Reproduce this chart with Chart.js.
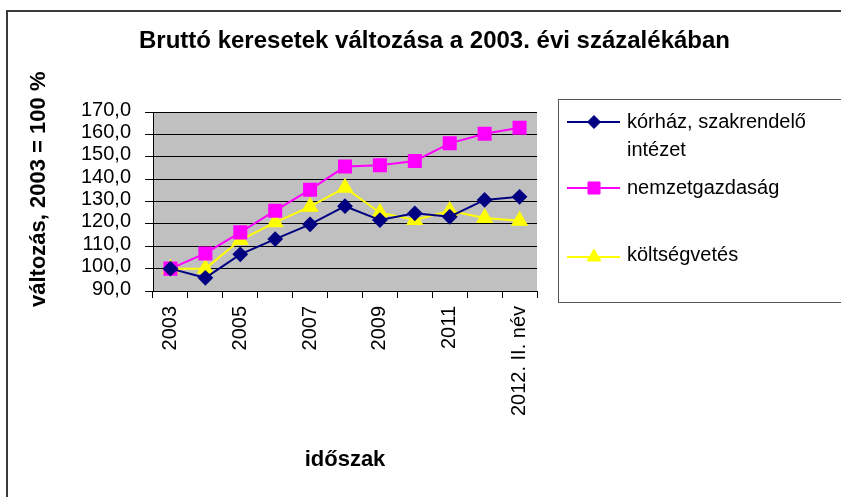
<!DOCTYPE html>
<html>
<head>
<meta charset="utf-8">
<script src="https://cdn.jsdelivr.net/npm/chart.js@4/dist/chart.umd.min.js"></script>
<style>
  html, body { margin: 0; padding: 0; background: #ffffff; }
  #wrap { width: 841px; height: 497px; }
</style>
</head>
<body>
<div id="wrap"><canvas id="c" width="841" height="497"></canvas></div>
<script>
const chartTitle = 'Bruttó keresetek változása a 2003. évi százalékában';
const yAxisTitle = 'változás, 2003 = 100 %';
const xAxisTitle = 'időszak';
const categories = ['2003', '2004', '2005', '2006', '2007', '2008', '2009', '2010', '2011', '2012. I. név', '2012. II. név'];
const seriesNames = ['kórház, szakrendelő intézet', 'nemzetgazdaság', 'költségvetés'];
const korhaz = [100, 95.9, 106.4, 113.2, 119.8, 127.9, 121.7, 124.7, 123.2, 130.7, 132.1];
const nemzetgazdasag = [100, 106.8, 116.2, 125.9, 135.3, 145.6, 146.2, 148.1, 156.0, 160.3, 163.0];
const koltsegvetes = [100, 100, 112.8, 120.7, 127.7, 136.2, 125.0, 121.7, 125.9, 122.6, 121.4];
const yMin = 90, yMax = 170, yStep = 10;

const FONT = "'Liberation Sans', Arial, sans-serif";

const bgPlugin = {
  id: 'bg',
  beforeDraw(chart) {
    const {ctx, chartArea: a} = chart;
    ctx.save();
    ctx.fillStyle = '#ffffff';
    ctx.fillRect(0, 0, chart.width, chart.height);
    ctx.fillStyle = '#c0c0c0';
    ctx.fillRect(a.left, a.top, a.right - a.left, a.bottom - a.top);
    ctx.restore();
  },
  afterDraw(chart) {
    const ctx = chart.ctx;
    ctx.save();
    ctx.strokeStyle = '#3a3a3a';
    ctx.lineWidth = 2;
    ctx.strokeRect(7, 11, 850, 500);
    ctx.restore();
  }
};

const legendPlugin = {
  id: 'xlLegend',
  afterDatasetsDraw(chart) {
    const ctx = chart.ctx;
    ctx.save();
    ctx.strokeStyle = '#555555';
    ctx.lineWidth = 1;
    ctx.strokeRect(558.5, 99.5, 300, 203);
    const rows = [122, 188, 257];
    const textRows = [[122, 150], [188], [255]];
    ctx.font = '20px ' + FONT;
    ctx.textBaseline = 'middle';
    ctx.textAlign = 'left';
    chart.data.datasets.forEach((ds, i) => {
      const y = rows[i];
      ctx.strokeStyle = ds.borderColor;
      ctx.lineWidth = 2;
      ctx.beginPath();
      ctx.moveTo(567, y);
      ctx.lineTo(620, y);
      ctx.stroke();
      ctx.fillStyle = ds.pointBackgroundColor;
      ctx.strokeStyle = ds.pointBorderColor;
      ctx.lineWidth = 1;
      Chart.helpers.drawPoint(ctx, {pointStyle: ds.pointStyle, radius: ds.pointRadius, rotation: 0, borderWidth: 1}, 594, y);
      const words = ds.label.split(' ');
      const lines = [];
      let cur = '';
      words.forEach(w => {
        const t = cur ? cur + ' ' + w : w;
        if (ctx.measureText(t).width > 205 && cur) { lines.push(cur); cur = w; } else cur = t;
      });
      lines.push(cur);
      ctx.fillStyle = '#000000';
      lines.forEach((ln, k) => ctx.fillText(ln, 627, textRows[i][k] !== undefined ? textRows[i][k] : textRows[i][0] + 28 * k));
    });
    ctx.restore();
  }
};

function mkDs(label, data, color, style, radius) {
  return {
    label, data,
    yAxisID: 'y',
    borderColor: color,
    backgroundColor: color,
    pointBackgroundColor: color,
    pointBorderColor: color,
    pointStyle: style,
    pointRadius: radius,
    pointHoverRadius: radius,
    borderWidth: 2,
    tension: 0
  };
}

new Chart(document.getElementById('c'), {
  type: 'line',
  data: {
    labels: categories,
    datasets: [
      mkDs(seriesNames[0], korhaz, '#000080', 'rectRot', 6.5),
      mkDs(seriesNames[1], nemzetgazdasag, '#ff00ff', 'rect', 8.5),
      mkDs(seriesNames[2], koltsegvetes, '#ffff00', 'triangle', 8)
    ]
  },
  options: {
    responsive: false,
    animation: false,
    devicePixelRatio: 1,
    layout: { padding: { left: 28, right: 0, top: 0, bottom: 0 } },
    plugins: {
      legend: { display: false },
      tooltip: { enabled: false },
      title: {
        display: true,
        text: chartTitle,
        color: '#000000',
        font: { family: FONT, size: 24, weight: 'bold' },
        padding: { top: 27, bottom: 56.2 }
      }
    },
    scales: {
      x: {
        type: 'category',
        offset: true,
        afterFit(scale) { scale.height = 206; },
        grid: { display: true, offset: true, drawOnChartArea: false, drawTicks: true, tickLength: 7, color: '#000000', lineWidth: 1 },
        border: { display: true, color: '#000000', width: 1 },
        ticks: {
          autoSkip: false,
          minRotation: 90,
          maxRotation: 90,
          padding: 8,
          color: '#000000',
          font: { family: FONT, size: 20 },
          callback(v, i) { return i % 2 === 0 ? categories[i] : ''; }
        },
        title: {
          display: true,
          text: xAxisTitle,
          color: '#000000',
          font: { family: FONT, size: 22, weight: 'bold' },
          padding: { top: 4, bottom: 24 }
        }
      },
      y: {
        position: 'left',
        min: yMin,
        max: yMax,
        afterFit(scale) { scale.width = 125; },
        grid: { display: true, color: '#000000', lineWidth: 1, drawTicks: true, tickLength: 8 },
        border: { display: true, color: '#000000', width: 1 },
        ticks: {
          autoSkip: false,
          stepSize: yStep,
          padding: 14,
          labelOffset: -2,
          color: '#000000',
          font: { family: FONT, size: 20 },
          callback(v) { return v.toFixed(1).replace('.', ','); }
        },
        title: {
          display: true,
          text: '\u00a0\u00a0\u00a0\u00a0' + yAxisTitle,
          color: '#000000',
          font: { family: FONT, size: 22, weight: 'bold', lineHeight: 1 },
          padding: { top: 0, bottom: 0 }
        }
      },
      legendSpace: {
        position: 'right',
        min: yMin,
        max: yMax,
        display: true,
        afterFit(scale) { scale.width = 304; },
        grid: { display: false, drawOnChartArea: false, drawTicks: false },
        border: { display: false },
        ticks: { display: false },
        title: { display: false }
      }
    }
  },
  plugins: [bgPlugin, legendPlugin]
});
</script>
</body>
</html>
